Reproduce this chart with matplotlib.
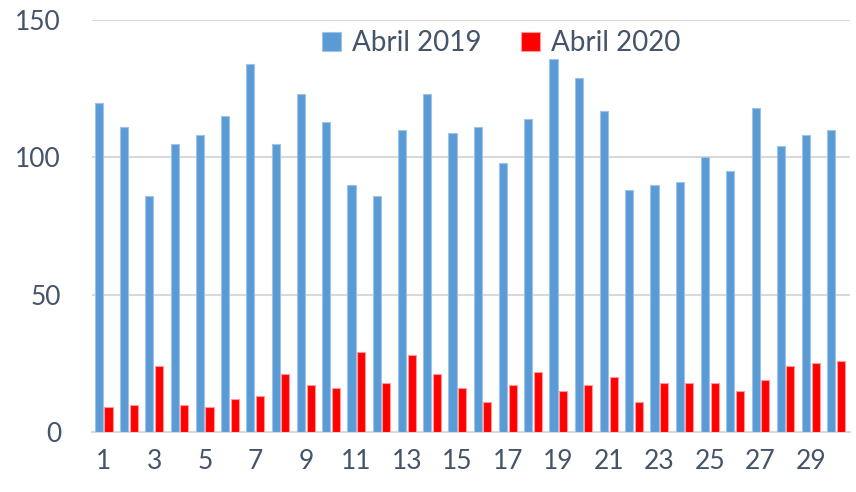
import numpy as np
import matplotlib
matplotlib.use("Agg")
import matplotlib.pyplot as plt

days = list(range(1, 31))
abril_2019 = [120, 111, 86, 105, 108, 115, 134, 105, 123, 113,
              90, 86, 110, 123, 109, 111, 98, 114, 136, 129,
              117, 88, 90, 91, 100, 95, 118, 104, 108, 110]
abril_2020 = [9, 10, 24, 10, 9, 12, 13, 21, 17, 16,
              29, 18, 28, 21, 16, 11, 17, 22, 15, 17,
              20, 11, 18, 18, 18, 15, 19, 24, 25, 26]
tick_days = list(range(1, 30, 2))

text_color = "#44546A"
plt.rcParams["font.family"] = ["Lato", "DejaVu Sans"]

fig = plt.figure(figsize=(8.56, 4.92), dpi=100)
ax = fig.add_axes([0.107, 0.122, 0.886, 0.837])

x = np.array(days)
w = 0.32
ax.bar(x - 0.19, abril_2019, width=w, color="#5B9BD5", edgecolor="#9DC3E6",
       linewidth=0.8, label="Abril 2019", zorder=3)
ax.bar(x + 0.19, abril_2020, width=w, color="#FF0000", edgecolor="#FF9999",
       linewidth=0.8, label="Abril 2020", zorder=3)

ax.set_ylim(0, 150)
ax.set_yticks([0, 50, 100, 150])
ax.set_xlim(0.52, 30.55)
ax.set_xticks(tick_days)
ax.grid(axis="y", color="#D9D9D9", linewidth=1.5, zorder=0)
for s in ["top", "right", "left"]:
    ax.spines[s].set_visible(False)
ax.spines["bottom"].set_color("#D9D9D9")
ax.spines["bottom"].set_linewidth(1.5)
ax.tick_params(axis="both", length=0, labelsize=19, colors=text_color)
ax.tick_params(axis="y", pad=22)
ax.tick_params(axis="x", pad=12)

leg = ax.legend(loc="center", bbox_to_anchor=(0.54, 0.944), ncol=2, frameon=False,
                fontsize=20, handlelength=0.7, handleheight=0.7,
                handletextpad=0.4, columnspacing=1.4)
for t in leg.get_texts():
    t.set_color(text_color)

fig.savefig("out.png", dpi=100)
plt.close(fig)
